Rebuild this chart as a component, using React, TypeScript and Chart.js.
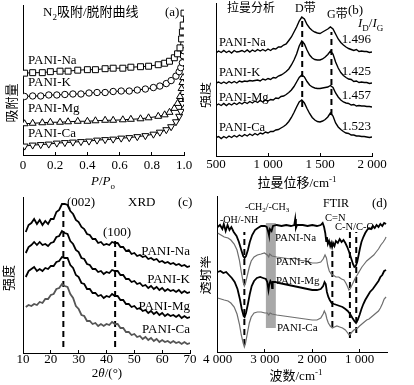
import React, { useEffect, useRef } from 'react';
import { Chart, registerables } from 'chart.js';

Chart.register(...registerables);

const FONT = '"Liberation Serif", "Times New Roman", "Noto Sans CJK SC", serif';
Chart.defaults.font.family = FONT;
Chart.defaults.color = '#000';

// ---------- (a) N2 adsorption ----------
const n2PressureNa = [0.01, 0.06, 0.12, 0.17, 0.23, 0.28, 0.34, 0.4, 0.45, 0.51, 0.56, 0.62, 0.67, 0.73, 0.78, 0.84, 0.88, 0.91, 0.94, 0.96, 0.975, 0.985, 0.99, 0.995, 1.0];
const n2AdsorbedNa = [82.5, 83, 83, 84, 84.5, 84.5, 85.5, 86, 86, 87, 87.5, 87.5, 88.5, 89, 89.5, 91, 92.5, 94.5, 98, 102, 108, 117, 124, 131, 143];
const n2PressureK = [0.01, 0.06, 0.11, 0.16, 0.21, 0.26, 0.31, 0.36, 0.41, 0.46, 0.51, 0.56, 0.61, 0.66, 0.71, 0.76, 0.81, 0.85, 0.89, 0.92, 0.95, 0.97, 0.98, 0.99, 0.995, 1.0];
const n2AdsorbedK = [59, 59.5, 59.5, 60.5, 60.5, 61, 61.5, 61.5, 62.5, 63, 63, 64, 64.5, 64.5, 65.5, 66.5, 68, 69.5, 72, 75, 79.5, 84, 88, 93, 100, 105];
const n2PressureMg = [0.01, 0.06, 0.12, 0.17, 0.23, 0.28, 0.34, 0.4, 0.45, 0.51, 0.56, 0.62, 0.67, 0.73, 0.78, 0.84, 0.88, 0.91, 0.94, 0.96, 0.975, 0.985, 0.99, 0.995];
const n2AdsorbedMg = [31.5, 32, 32.5, 33, 33, 33.5, 34, 34, 34.5, 35, 35, 35.5, 36, 36.5, 37.5, 39, 40.5, 43, 47, 52, 59, 67, 73, 78];
const n2PressureCa = [0.01, 0.06, 0.11, 0.16, 0.21, 0.26, 0.31, 0.36, 0.41, 0.46, 0.51, 0.56, 0.61, 0.66, 0.71, 0.76, 0.81, 0.85, 0.89, 0.92, 0.95, 0.97, 0.98, 0.99, 0.995];
const n2AdsorbedCa = [9, 10, 10.5, 11, 12, 12.5, 13, 13.5, 14, 15, 15.5, 16, 17, 17.5, 18.5, 19.5, 21, 23, 25.5, 28.5, 33.5, 39, 44, 52, 59];
const pressureTicks = [0, 0.2, 0.4, 0.6, 0.8, 1.0];

// ---------- (b) Raman ----------
const ramanShift = [500, 525, 550, 575, 600, 625, 650, 675, 700, 725, 750, 775, 800, 825, 850, 875, 900, 925, 950, 975, 1000, 1025, 1050, 1075, 1100, 1125, 1150, 1175, 1200, 1225, 1250, 1275, 1300, 1325, 1350, 1375, 1400, 1425, 1450, 1475, 1500, 1525, 1550, 1575, 1600, 1625, 1650, 1675, 1700, 1725, 1750, 1775, 1800, 1825, 1850, 1875, 1900, 1925, 1950, 1975, 2000];
const ramanNa = [103, 105, 103.5, 105.5, 103.5, 105, 103, 105.5, 104, 104.5, 105.5, 104, 106, 104, 106, 104.5, 106.5, 105, 106.5, 105, 107, 105.5, 107.5, 107, 109, 109, 111, 112, 115.5, 119, 124, 129, 135, 139, 137, 131.5, 128, 125.5, 124, 123, 122.5, 124, 125.5, 127, 129, 127, 122, 117, 113.5, 111, 109, 107.5, 106.5, 105.5, 106.5, 104.5, 105, 104.5, 104.5, 103.5, 104];
const ramanK = [73, 74, 72.5, 74, 72.5, 74.5, 73, 74.5, 73, 75, 74, 75, 74.5, 75.5, 75, 75.5, 76, 75, 77, 76, 77.5, 76.5, 78.5, 78, 80, 81, 82.5, 84.5, 87, 91, 96, 102, 110, 115, 112, 106, 101, 98, 96.5, 96, 96, 97, 99, 101.5, 105, 102, 94, 88, 83.5, 80.5, 78.5, 77, 76.5, 74.5, 75, 73.5, 74, 73.5, 73.5, 72.5, 73];
const ramanMg = [50.5, 52, 50.5, 52.5, 50.5, 52.5, 51, 53, 51.5, 53.5, 52, 54, 52.5, 54.5, 53, 55, 53.5, 55.5, 54, 56, 55, 56.5, 56, 58, 57.5, 59.5, 60, 61.5, 63.5, 66, 69.5, 74, 78.5, 81, 79, 74.5, 71, 69, 68, 67.5, 67.5, 68, 68.5, 69, 70.5, 68.5, 63, 59, 56, 54, 53, 52.5, 51, 51.5, 50, 50.5, 50, 50, 49.5, 49.5, 49];
const ramanCa = [18.5, 19.5, 17.5, 19.5, 18, 20, 18.5, 20.5, 19, 21, 19.5, 21.5, 20, 22, 20.5, 22.5, 21, 23, 22, 24, 23, 24.5, 24.5, 26, 26.5, 28, 29.5, 31.5, 34.5, 38.5, 43.5, 49, 54, 56, 53, 47.5, 42.5, 38.5, 36, 34.5, 34, 35, 36.5, 39, 43, 40, 33, 29, 26.5, 24.5, 23, 22.5, 21, 21, 20, 20, 19.5, 19.5, 19, 18.5, 19];
const ramanPeaks = [1329, 1610];
const ramanPeakSpan = [[49, 138], [41, 124]];
const ratioValues = ['1.496', '1.425', '1.457', '1.523'];
const ramanTicks = [500, 1000, 1500, 2000];

// ---------- (c) XRD ----------
const twoTheta = [11, 12, 13, 14, 15, 16, 17, 18, 19, 20, 21, 22, 23, 24, 25, 26, 27, 28, 29, 30, 31, 32, 33, 34, 35, 36, 37, 38, 39, 40, 41, 42, 43, 44, 45, 46, 47, 48, 49, 50, 51, 52, 53, 54, 55, 56, 57, 58, 59, 60, 61, 62, 63, 64, 65, 66, 67, 68, 69, 70];
const xrdNa = [121, 128, 130, 134, 129, 133, 128, 132, 129, 134, 134, 141, 143, 149, 149, 148, 142, 139, 133, 131, 126, 124, 119, 118, 114, 114, 110, 111, 108, 109, 108, 111, 110, 110, 106, 106, 102, 103, 99, 100, 97, 98, 96, 97, 94, 95, 93, 94, 91, 92, 90, 91, 89, 90, 88, 89, 87, 88, 86, 87];
const xrdK = [100, 106, 108, 111, 108, 111, 108, 109, 107, 110, 111, 116, 117, 122, 120, 119, 112, 109, 103, 101, 95, 94, 89, 88, 84, 84, 81, 82, 79, 81, 80, 83, 82, 82, 78, 78, 74, 74, 71, 72, 69, 70, 67, 68, 65, 67, 64, 66, 63, 65, 62, 64, 62, 63, 61, 63, 60, 62, 60, 61];
const xrdMg = [76, 82, 84, 86, 82, 84, 82, 85, 84, 87, 87, 91, 92, 96, 95, 95, 88, 85, 78, 76, 70, 69, 64, 64, 60, 60, 57, 58, 55, 57, 56, 59, 57, 57, 53, 53, 49, 49, 46, 47, 44, 45, 42, 43, 40, 42, 39, 41, 38, 40, 37, 39, 37, 38, 36, 38, 35, 37, 35, 36];
const xrdCa = [46, 48, 47, 49, 48, 51, 50, 54, 54, 58, 59, 64, 65, 69, 67, 66, 59, 55, 47, 44, 38, 37, 32, 32, 29, 30, 27, 29, 27, 29, 28, 31, 29, 29, 25, 25, 21, 21, 18, 19, 16, 17, 14, 16, 13, 15, 12, 14, 11, 13, 11, 12, 10, 12, 10, 11, 9, 11, 9, 10];
const xrdPeaks = [24.5, 43.1];
const xrdPeakSpan = [[6, 143], [6, 113]];
const xrdTicks = [10, 20, 30, 40, 50, 60, 70];

// ---------- (d) FTIR [wavenumber, transmittance] ----------
const ftirNa: [number, number][] = [[4000, 125], [3950, 127], [3900, 123], [3870, 128], [3830, 121], [3790, 127], [3750, 122], [3710, 125], [3660, 120], [3600, 116], [3550, 110], [3500, 102], [3460, 96], [3430, 94], [3400, 96], [3360, 102], [3320, 110], [3270, 117], [3210, 122], [3150, 124], [3080, 126], [3000, 126], [2960, 125], [2930, 120], [2915, 117], [2895, 123], [2860, 121], [2830, 126], [2750, 127], [2650, 126], [2550, 127], [2450, 126], [2380, 127], [2360, 133], [2345, 124], [2320, 127], [2200, 127], [2100, 126], [2000, 127], [1900, 126], [1820, 127], [1780, 129], [1750, 125], [1725, 119], [1705, 111], [1690, 115], [1670, 108], [1645, 111], [1620, 106], [1600, 109], [1580, 105], [1560, 109], [1530, 106], [1500, 111], [1460, 109], [1420, 113], [1380, 110], [1340, 112], [1300, 109], [1260, 105], [1220, 100], [1180, 94], [1140, 88], [1110, 85], [1080, 86], [1050, 90], [1020, 97], [990, 104], [960, 110], [920, 115], [880, 119], [840, 122], [800, 124], [760, 123], [720, 126], [680, 124], [640, 127], [600, 125], [560, 128], [520, 126], [480, 129], [440, 128]];
const ftirK: [number, number][] = [[4000, 119], [3930, 117], [3860, 115], [3780, 114], [3720, 112], [3650, 108], [3590, 102], [3540, 92], [3500, 80], [3460, 70], [3435, 66], [3410, 69], [3370, 77], [3330, 85], [3290, 91], [3230, 95], [3160, 97], [3080, 98], [3010, 99], [2950, 97], [2920, 95], [2900, 98], [2850, 96], [2750, 95], [2600, 94], [2450, 93], [2360, 94], [2300, 92], [2150, 91], [2000, 89], [1900, 89], [1820, 90], [1770, 93], [1730, 97], [1700, 94], [1670, 86], [1640, 81], [1600, 78], [1560, 77], [1500, 75], [1440, 75], [1380, 73], [1330, 72], [1290, 69], [1250, 65], [1225, 62], [1200, 63], [1170, 66], [1130, 70], [1090, 74], [1050, 77], [1000, 81], [950, 85], [900, 88], [850, 91], [800, 93], [750, 95], [700, 97], [650, 100], [600, 103], [550, 107], [500, 110], [460, 113], [440, 115]];
const ftirMg: [number, number][] = [[4000, 80], [3940, 81], [3880, 79], [3820, 80], [3760, 77], [3700, 74], [3640, 70], [3580, 63], [3530, 53], [3490, 43], [3450, 36], [3430, 35], [3400, 39], [3360, 48], [3320, 58], [3280, 66], [3230, 71], [3170, 74], [3100, 75], [3040, 74], [2980, 73], [2950, 70], [2925, 62], [2910, 67], [2885, 71], [2860, 69], [2850, 64], [2835, 70], [2780, 70], [2700, 69], [2600, 68], [2500, 67], [2400, 66], [2300, 65], [2200, 64], [2100, 63], [2000, 62], [1900, 62], [1820, 63], [1770, 66], [1740, 70], [1715, 68], [1690, 60], [1660, 55], [1630, 52], [1590, 49], [1540, 48], [1480, 47], [1420, 46], [1360, 45], [1300, 43], [1250, 41], [1200, 38], [1150, 34], [1110, 31], [1075, 29], [1040, 32], [1000, 37], [960, 43], [920, 48], [880, 52], [830, 56], [780, 60], [720, 63], [660, 67], [600, 71], [560, 75], [520, 77], [480, 81], [440, 82]];
const ftirCa: [number, number][] = [[4000, 54], [3930, 53], [3860, 52], [3780, 51], [3720, 49], [3650, 45], [3590, 38], [3540, 28], [3500, 17], [3460, 9], [3435, 5], [3410, 9], [3370, 19], [3330, 29], [3290, 35], [3230, 39], [3160, 40], [3080, 40], [3000, 39], [2950, 39], [2920, 37], [2890, 39], [2850, 38], [2750, 37], [2600, 36], [2450, 35], [2300, 34], [2150, 33], [2000, 32], [1900, 32], [1820, 34], [1770, 38], [1745, 41], [1715, 38], [1690, 33], [1660, 29], [1620, 26], [1575, 24], [1530, 25], [1480, 26], [1420, 25], [1360, 24], [1300, 22], [1250, 19], [1220, 17], [1190, 18], [1160, 20], [1120, 22], [1080, 23], [1040, 24], [1000, 26], [950, 28], [900, 30], [850, 32], [800, 33], [750, 35], [700, 37], [650, 39], [600, 41], [560, 44], [520, 48], [480, 53], [440, 55]];
const ftirPeaks = [3435, 1575, 1204, 1070];
const ftirPeakSpan = [[7, 120], [25, 109], [14, 120], [19, 120]];
const ftirBand = [2980, 2770, 24, 129];
const ftirTicks = [4000, 3000, 2000, 1000];

// ---------- helpers ----------
type Run = { t: string; it?: boolean; sub?: boolean; sup?: boolean };
type Label = { runs: Run[]; x: number; y: number; size: number; align?: 'left' | 'center' | 'right'; rotate?: boolean; color?: string };

const T = (t: string): Run[] => [{ t }];

function drawRich(ctx: CanvasRenderingContext2D, l: Label) {
  const fonts = l.runs.map((r) => `${r.it ? 'italic ' : ''}${r.sub || r.sup ? Math.round(l.size * 0.68) : l.size}px ${FONT}`);
  const widths = l.runs.map((r, i) => {
    ctx.font = fonts[i];
    return ctx.measureText(r.t).width;
  });
  const total = widths.reduce((a, b) => a + b, 0);
  ctx.save();
  ctx.translate(l.x, l.y);
  if (l.rotate) ctx.rotate(-Math.PI / 2);
  let cx = l.align === 'center' ? -total / 2 : l.align === 'right' ? -total : 0;
  ctx.textBaseline = 'middle';
  ctx.textAlign = 'left';
  ctx.fillStyle = l.color || '#000';
  l.runs.forEach((r, i) => {
    ctx.font = fonts[i];
    const dy = r.sub ? l.size * 0.32 : r.sup ? -l.size * 0.32 : 0;
    ctx.fillText(r.t, cx, dy);
    cx += widths[i];
  });
  ctx.restore();
}

function annotate(labels: Label[], band?: number[]) {
  return {
    id: 'annot',
    beforeDatasetsDraw(chart: any) {
      if (!band) return;
      const xs = chart.scales.x;
      const ys = chart.scales.y;
      const x0 = xs.getPixelForValue(band[0]);
      const x1 = xs.getPixelForValue(band[1]);
      const y0 = ys.getPixelForValue(band[2]);
      const y1 = ys.getPixelForValue(band[3]);
      const ctx = chart.ctx;
      ctx.save();
      ctx.fillStyle = '#a8a8a8';
      ctx.fillRect(Math.min(x0, x1), y1, Math.abs(x1 - x0), y0 - y1);
      ctx.restore();
    },
    afterDraw(chart: any) {
      labels.forEach((l) => drawRich(chart.ctx, l));
    },
  };
}

const fmtThousands = (v: number) => (v >= 1000 ? `${Math.floor(v / 1000)} ${String(v % 1000).padStart(3, '0')}` : String(v));

function baseOptions(o: {
  xMin: number; xMax: number; ticks: number[]; yMax: number; reverse?: boolean;
  top: number; right: number; yWidth: number; xHeight: number; labelPad: number; fmt: (v: number) => string;
}) {
  return {
    responsive: false,
    animation: false,
    devicePixelRatio: 1,
    events: [],
    layout: { padding: { left: 0, top: o.top, right: o.right, bottom: 0 } },
    plugins: { legend: { display: false }, tooltip: { enabled: false } },
    elements: { point: { radius: 0 }, line: { tension: 0 } },
    scales: {
      x: {
        type: 'linear',
        min: o.xMin,
        max: o.xMax,
        reverse: !!o.reverse,
        afterBuildTicks: (s: any) => {
          s.ticks = o.ticks.map((v) => ({ value: v }));
        },
        afterFit: (s: any) => {
          s.height = o.xHeight;
        },
        grid: { display: true, drawOnChartArea: false, drawTicks: true, tickLength: -3, color: '#000', lineWidth: 1 },
        border: { display: true, color: '#000', width: 1 },
        ticks: { font: { size: 13, family: FONT }, color: '#000', padding: o.labelPad, maxRotation: 0, autoSkip: false, callback: (v: any) => o.fmt(Number(v)) },
      },
      y: {
        type: 'linear',
        min: 0,
        max: o.yMax,
        afterFit: (s: any) => {
          s.width = o.yWidth;
        },
        grid: { display: false },
        border: { display: true, color: '#000', width: 1 },
        ticks: { display: false },
      },
    },
  };
}

const curve = (xs: number[], ys: number[], color: string, width: number) => ({
  data: xs.map((x, i) => ({ x, y: ys[i] })),
  borderColor: color,
  borderWidth: width,
  pointRadius: 0,
  fill: false,
});
const pairCurve = (pts: [number, number][], color: string, width: number) => ({
  data: pts.map(([x, y]) => ({ x, y })),
  borderColor: color,
  borderWidth: width,
  pointRadius: 0,
  fill: false,
});
const dashed = (x: number, span: number[]) => ({
  data: [{ x, y: span[0] }, { x, y: span[1] }],
  borderColor: '#000',
  borderWidth: 2,
  borderDash: [6, 4],
  pointRadius: 0,
  fill: false,
});
const marked = (xs: number[], ys: number[], style: string, radius: number, rotation = 0) => ({
  data: xs.map((x, i) => ({ x, y: ys[i] })),
  borderColor: '#000',
  borderWidth: 1,
  pointStyle: style,
  pointRadius: radius,
  pointRotation: rotation,
  pointBackgroundColor: '#fff',
  pointBorderColor: '#000',
  pointBorderWidth: 1,
  fill: false,
});

// ---------- configs ----------
const configA = () => ({
  type: 'line',
  data: {
    datasets: [
      marked(n2PressureNa, n2AdsorbedNa, 'rect', 4.2),
      marked(n2PressureK, n2AdsorbedK, 'circle', 3.2),
      marked(n2PressureMg, n2AdsorbedMg, 'triangle', 4),
      marked(n2PressureCa, n2AdsorbedCa, 'triangle', 4, 180),
    ],
  },
  options: baseOptions({ xMin: 0, xMax: 1, ticks: pressureTicks, yMax: 151, top: 4, right: 23, yWidth: 23, xHeight: 37, labelPad: 6, fmt: (v) => (v === 0 ? '0' : v.toFixed(1)) }),
  plugins: [
    annotate([
      { runs: [{ t: 'N' }, { t: '2', sub: true }, { t: '吸附/脱附曲线' }], x: 43, y: 13, size: 13 },
      { runs: T('(a)'), x: 165, y: 13, size: 13 },
      { runs: T('PANI-Na'), x: 28, y: 61, size: 13 },
      { runs: T('PANI-K'), x: 28, y: 83, size: 13 },
      { runs: T('PANI-Mg'), x: 28, y: 109, size: 13 },
      { runs: T('PANI-Ca'), x: 28, y: 134, size: 13 },
      { runs: T('吸附量'), x: 12.5, y: 103, size: 13, align: 'center', rotate: true },
      { runs: [{ t: 'P', it: true }, { t: '/' }, { t: 'P', it: true }, { t: 'o', sub: true }], x: 103, y: 182, size: 13, align: 'center' },
    ]),
  ],
});

const configB = () => ({
  type: 'line',
  data: {
    datasets: [
      curve(ramanShift, ramanNa, '#000', 1.4),
      curve(ramanShift, ramanK, '#000', 1.4),
      curve(ramanShift, ramanMg, '#000', 1.4),
      curve(ramanShift, ramanCa, '#000', 1.4),
      dashed(ramanPeaks[0], ramanPeakSpan[0]),
      dashed(ramanPeaks[1], ramanPeakSpan[1]),
    ],
  },
  options: baseOptions({ xMin: 500, xMax: 2000, ticks: ramanTicks, yMax: 153, top: 3, right: 42, yWidth: 16, xHeight: 36, labelPad: 4, fmt: fmtThousands }),
  plugins: [
    annotate([
      { runs: T('拉曼分析'), x: 27, y: 9, size: 12 },
      { runs: T('D带'), x: 95, y: 9, size: 12 },
      { runs: T('G带'), x: 127, y: 15, size: 12 },
      { runs: T('(b)'), x: 148, y: 11, size: 13 },
      { runs: [{ t: 'I', it: true }, { t: 'D', sub: true }, { t: '/' }, { t: 'I', it: true }, { t: 'G', sub: true }], x: 158, y: 24, size: 13 },
      { runs: T(ratioValues[0]), x: 171, y: 40, size: 13, align: 'right' },
      { runs: T(ratioValues[1]), x: 171, y: 72, size: 13, align: 'right' },
      { runs: T(ratioValues[2]), x: 171, y: 96, size: 13, align: 'right' },
      { runs: T(ratioValues[3]), x: 171, y: 127, size: 13, align: 'right' },
      { runs: T('PANI-Na'), x: 19, y: 43, size: 12.5 },
      { runs: T('PANI-K'), x: 19, y: 73, size: 12.5 },
      { runs: T('PANI-Mg'), x: 19, y: 98, size: 12.5 },
      { runs: T('PANI-Ca'), x: 19, y: 128, size: 12.5 },
      { runs: T('强度'), x: 6, y: 95, size: 13, align: 'center', rotate: true },
      { runs: [{ t: '拉曼位移/cm' }, { t: '-1', sup: true }], x: 97, y: 184, size: 13, align: 'center' },
    ]),
  ],
});

const configC = () => ({
  type: 'line',
  data: {
    datasets: [
      curve(twoTheta, xrdNa, '#000', 1.8),
      curve(twoTheta, xrdK, '#000', 1.8),
      curve(twoTheta, xrdMg, '#000', 1.8),
      curve(twoTheta, xrdCa, '#555', 1.8),
      dashed(xrdPeaks[0], xrdPeakSpan[0]),
      dashed(xrdPeaks[1], xrdPeakSpan[1]),
    ],
  },
  options: baseOptions({ xMin: 10, xMax: 70, ticks: xrdTicks, yMax: 156, top: 5, right: 17, yWidth: 23, xHeight: 32, labelPad: 2, fmt: (v) => String(v) }),
  plugins: [
    annotate([
      { runs: T('(002)'), x: 67, y: 11, size: 13 },
      { runs: T('XRD'), x: 128, y: 11, size: 13 },
      { runs: T('(c)'), x: 178, y: 11, size: 13 },
      { runs: T('(100)'), x: 103, y: 41, size: 13 },
      { runs: T('PANI-Na'), x: 190, y: 60, size: 13, align: 'right' },
      { runs: T('PANI-K'), x: 190, y: 88, size: 13, align: 'right' },
      { runs: T('PANI-Mg'), x: 190, y: 115, size: 13, align: 'right' },
      { runs: T('PANI-Ca'), x: 190, y: 138, size: 13, align: 'right' },
      { runs: T('强度'), x: 10, y: 86, size: 13, align: 'center', rotate: true },
      { runs: [{ t: '2' }, { t: 'θ', it: true }, { t: '/(°)' }], x: 107, y: 182, size: 13, align: 'center' },
    ]),
  ],
});

const configD = () => ({
  type: 'line',
  data: {
    datasets: [
      pairCurve(ftirNa, '#000', 1.8),
      pairCurve(ftirK, '#6e6e6e', 1.2),
      pairCurve(ftirMg, '#000', 1.8),
      pairCurve(ftirCa, '#6e6e6e', 1.2),
      dashed(ftirPeaks[0], ftirPeakSpan[0]),
      dashed(ftirPeaks[1], ftirPeakSpan[1]),
      dashed(ftirPeaks[2], ftirPeakSpan[2]),
      dashed(ftirPeaks[3], ftirPeakSpan[3]),
    ],
  },
  options: baseOptions({ xMin: 420, xMax: 4000, reverse: true, ticks: ftirTicks, yMax: 156, top: 4, right: 27, yWidth: 16, xHeight: 33, labelPad: 3, fmt: fmtThousands }),
  plugins: [
    annotate(
      [
        { runs: [{ t: '-CH' }, { t: '2', sub: true }, { t: '/-CH' }, { t: '3', sub: true }], x: 45, y: 15, size: 10 },
        { runs: T('-OH/-NH'), x: 20, y: 28, size: 10 },
        { runs: T('FTIR'), x: 123, y: 12, size: 12 },
        { runs: T('(d)'), x: 172, y: 12, size: 13 },
        { runs: T('C=N'), x: 125, y: 26, size: 10.5 },
        { runs: T('C-N/C-O'), x: 135, y: 35, size: 10.5 },
        { runs: T('PANI-Na'), x: 75, y: 46, size: 11 },
        { runs: T('PANI-K'), x: 76, y: 70, size: 11 },
        { runs: T('PANI-Mg'), x: 76, y: 89, size: 11 },
        { runs: T('PANI-Ca'), x: 77, y: 136, size: 11 },
        { runs: T('透射率'), x: 6, y: 83, size: 13, align: 'center', rotate: true },
        { runs: [{ t: '波数/cm' }, { t: '-1', sup: true }], x: 96, y: 185, size: 13, align: 'center' },
      ],
      ftirBand
    ),
  ],
});

function Panel({ left, top, width, height, make }: { left: number; top: number; width: number; height: number; make: () => any }) {
  const ref = useRef<HTMLCanvasElement>(null);
  useEffect(() => {
    const chart = new Chart(ref.current as HTMLCanvasElement, make());
    return () => chart.destroy();
  }, []);
  return (
    <canvas
      ref={ref}
      width={width}
      height={height}
      style={{ position: 'absolute', left, top, width, height, display: 'block' }}
    />
  );
}

export default function App() {
  return (
    <div style={{ position: 'absolute', left: 0, top: 0, width: 414, height: 385, background: '#fff', overflow: 'hidden' }}>
      <Panel left={0} top={0} width={207} height={192} make={configA} />
      <Panel left={200} top={0} width={214} height={192} make={configB} />
      <Panel left={0} top={192} width={207} height={193} make={configC} />
      <Panel left={200} top={192} width={214} height={193} make={configD} />
    </div>
  );
}
